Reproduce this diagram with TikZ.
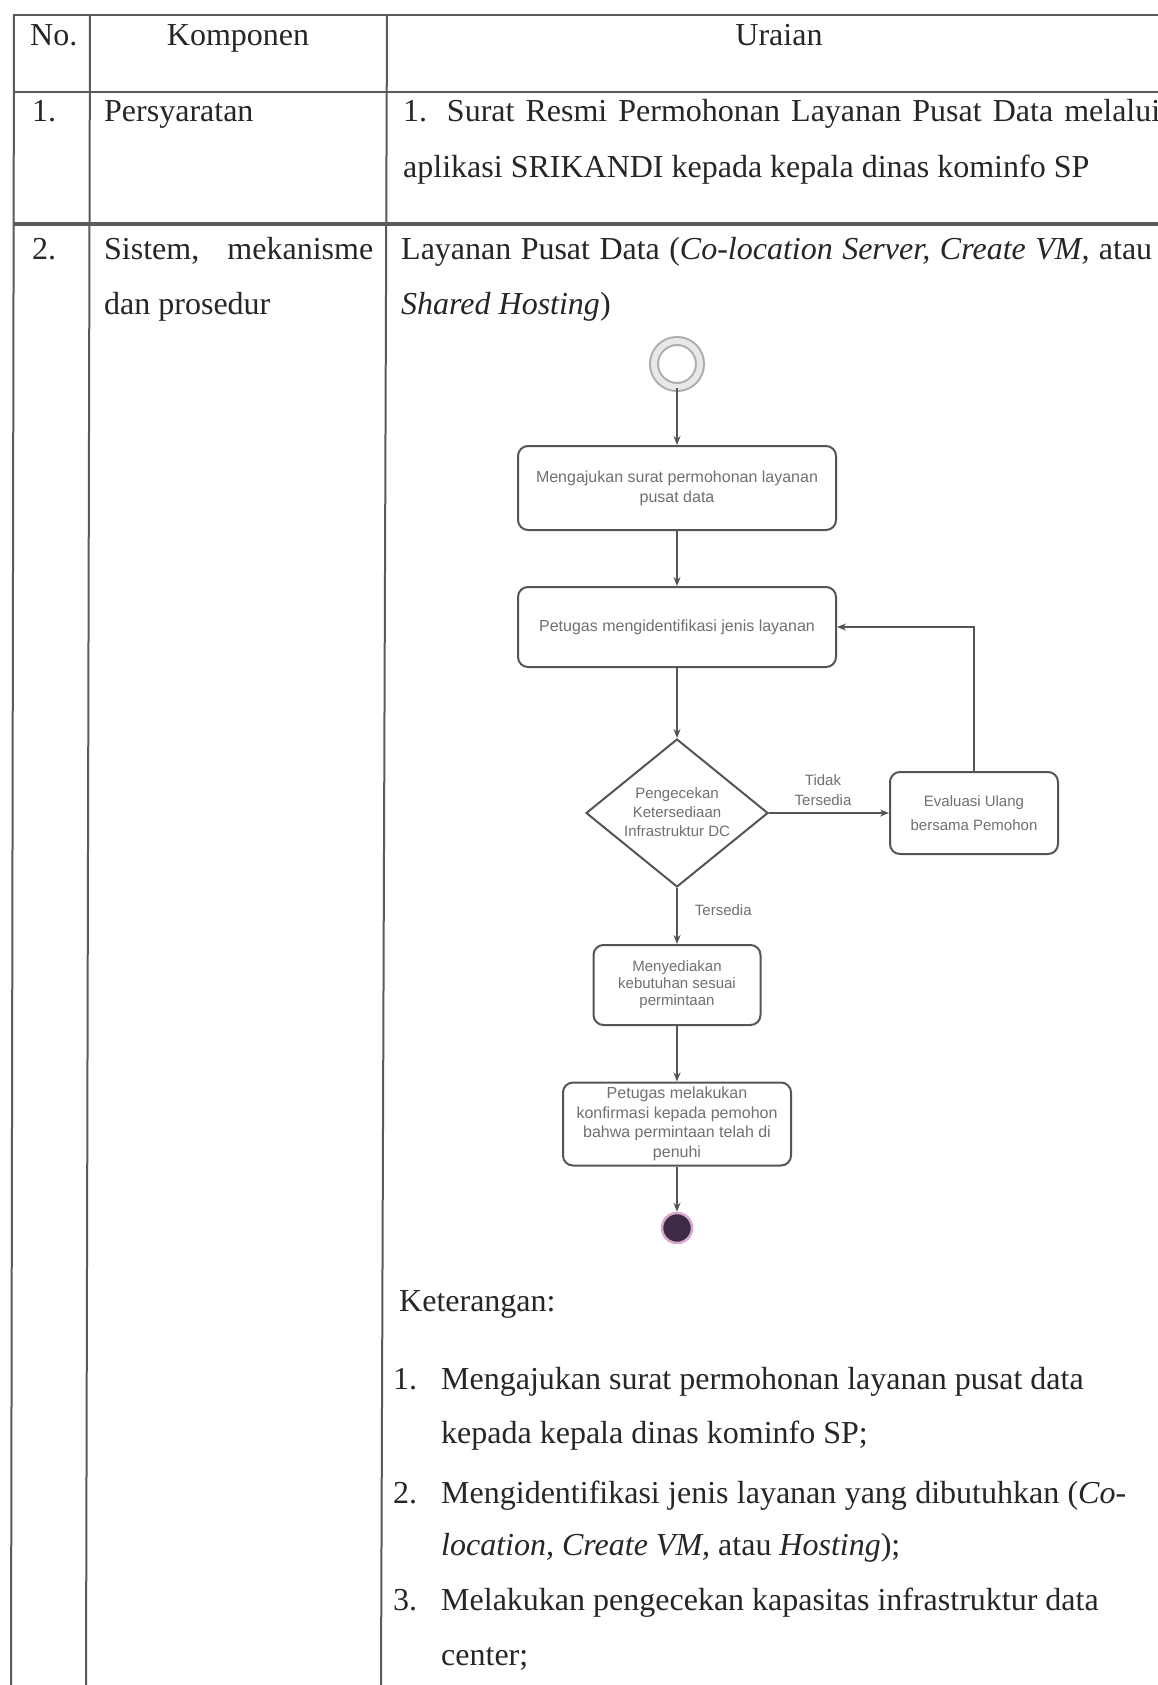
\documentclass[tikz,border=0pt]{standalone}
\usepackage{fontspec}
\setmainfont{Liberation Serif}
\newfontfamily\dfont{Liberation Sans}
\usetikzlibrary{shapes.geometric,arrows.meta}
\definecolor{tline}{HTML}{5A5A5A}
\definecolor{ttext}{HTML}{262626}
\definecolor{dline}{HTML}{555555}
\definecolor{dtext}{HTML}{707070}
\definecolor{endfill}{HTML}{3B2B46}
\definecolor{endring}{HTML}{D9A9C9}
\begin{document}
\begin{tikzpicture}[x=1pt,y=-1pt,
  txt/.style={font=\fontsize{32}{56}\selectfont, text=ttext, inner sep=0, anchor=base west},
  act/.style={draw=dline, line width=2pt, rounded corners=10pt, align=center, text=dtext, inner sep=0, font=\dfont\fontsize{16}{20}\selectfont},
  flow/.style={draw=dline, line width=1.8pt, -{Stealth[length=9pt,width=7pt]}},
  lbl/.style={text=dtext, font=\dfont\fontsize{15}{20}\selectfont, align=center, inner sep=0}
]
\fill[white] (0,0) rectangle (1158,1685);
\useasboundingbox (0,0) rectangle (1158,1685);

% table lines
\draw[tline, line width=2.5pt] (13,15) -- (1158,15);
\draw[tline, line width=2.5pt] (13,92) -- (1158,92);
\draw[tline, line width=4pt] (13,224) -- (1158,224);
\draw[tline, line width=2pt] (14,15) -- (11,1685);
\draw[tline, line width=2pt] (90,15) -- (86,1685);
\draw[tline, line width=2pt] (387,15) -- (381,1685);

% header
\node[txt] (hno) at (30,46) {No.};
\node[txt, anchor=base] (hkomp) at (238,46) {Komponen};
\node[txt, anchor=base] (hur) at (779,46) {Uraian};

% row 1
\node[txt] (n1) at (32,122) {1.};
\node[txt] (k1) at (104,122) {Persyaratan};
\node[txt] (u1a) at (403,122) {\makebox[757pt][s]{1. Surat Resmi Permohonan Layanan Pusat Data melalui}};
\node[txt] (u1b) at (403,178) {aplikasi SRIKANDI kepada kepala dinas kominfo SP};

% row 2
\node[txt] (n2) at (32,260) {2.};
\node[txt] (k2a) at (104,260) {\makebox[269pt][s]{Sistem, mekanisme}};
\node[txt] (k2b) at (104,315) {dan prosedur};
\node[txt] (u2a) at (401,260) {\makebox[751pt][s]{Layanan Pusat Data (\textit{Co-location Server, Create VM,} atau}};
\node[txt] (u2b) at (401,315) {\textit{Shared Hosting})};

% diagram
\node[circle, draw=gray!65, double=gray!18, double distance=6pt, line width=2pt, minimum size=46pt, inner sep=0] (start) at (677,364) {};
\node[act, minimum width=318pt, minimum height=84pt] (b1) at (677,488) {Mengajukan surat permohonan layanan\\pusat data};
\node[act, minimum width=318pt, minimum height=80pt] (b2) at (677,627) {Petugas mengidentifikasi jenis layanan};
\node[diamond, draw=dline, line width=2pt, minimum width=182pt, minimum height=148pt, inner sep=0] (dia) at (677,813) {};
\node[lbl, font=\dfont\fontsize{15}{19}\selectfont] (diat) at (677,812) {Pengecekan\\Ketersediaan\\Infrastruktur DC};
\node[act, minimum width=168pt, minimum height=82pt, font=\dfont\fontsize{15}{24}\selectfont] (ev) at (974,813) {Evaluasi Ulang\\bersama Pemohon};
\node[act, minimum width=167pt, minimum height=80pt, font=\dfont\fontsize{15}{17}\selectfont] (b3) at (677,985) {Menyediakan\\kebutuhan sesuai\\permintaan};
\node[act, minimum width=228pt, minimum height=83pt, font=\dfont\fontsize{16}{19.5}\selectfont] (b4) at (677,1124) {Petugas melakukan\\konfirmasi kepada pemohon\\bahwa permintaan telah di\\penuhi};
\node[circle, fill=endfill, draw=endring, line width=2.5pt, minimum size=30pt, inner sep=0] (end) at (677,1228) {};

\draw[flow] (start) -- (b1);
\draw[flow] (b1) -- (b2);
\draw[flow] (b2) -- (dia);
\draw[flow] (dia.east) -- node[lbl, above=6pt, pos=0.45] {Tidak\\Tersedia} (ev.west);
\draw[flow] (ev.north) |- (b2.east);
\draw[flow] (dia) -- node[lbl, right=17pt, pos=0.4] {Tersedia} (b3);
\draw[flow] (b3) -- (b4);
\draw[flow] (b4) -- (end);

% keterangan
\node[txt] (ket) at (399,1311) {Keterangan:};
\node[txt] (l1n) at (393,1389) {1.};
\node[txt] (l1a) at (441,1389) {Mengajukan surat permohonan layanan pusat data};
\node[txt] (l1b) at (441,1443) {kepada kepala dinas kominfo SP;};
\node[txt] (l2n) at (393,1503) {2.};
\node[txt] (l2a) at (441,1503) {\makebox[685pt][s]{Mengidentifikasi jenis layanan yang dibutuhkan (\textit{Co-}}};
\node[txt] (l2b) at (441,1555) {\textit{location, Create VM,} atau \textit{Hosting});};
\node[txt] (l3n) at (393,1610) {3.};
\node[txt] (l3a) at (441,1610) {Melakukan pengecekan kapasitas infrastruktur data};
\node[txt] (l3b) at (441,1665) {center;};
\end{tikzpicture}
\end{document}
